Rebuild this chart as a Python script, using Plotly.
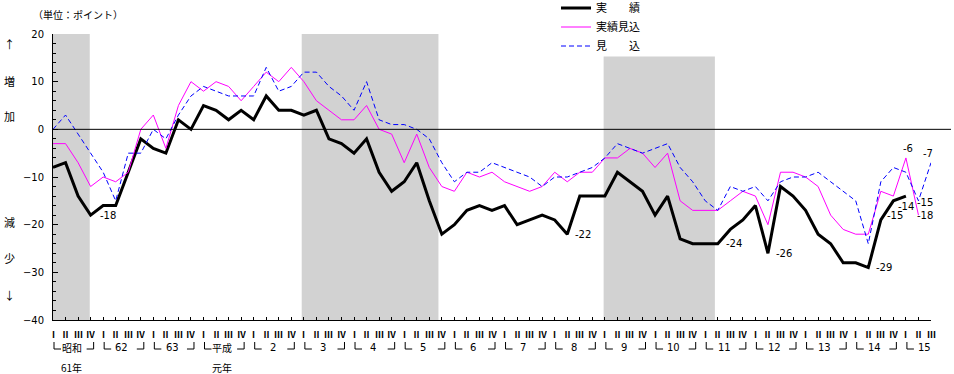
import plotly.graph_objects as go

# ---------------- data ----------------
quarter_labels = ["Ⅰ", "Ⅱ", "Ⅲ", "Ⅳ"]
year_labels = ["昭和", "62", "63", "平成", "2", "3", "4", "5", "6", "7", "8", "9",
               "10", "11", "12", "13", "14", "15"]
year_sublabels = ["61年", "", "", "元年", "", "", "", "", "", "", "", "", "", "", "", "", "", ""]
n_quarters = 71  # 昭和61年Ⅰ期 ... 平成15年Ⅲ期

series_names = ["実　　績", "実績見込", "見　　込"]

actual = [-8, -7, -14, -18, -16, -16, -9, -2, -4, -5, 2, 0, 5, 4, 2, 4, 2, 7, 4, 4,
          3, 4, -2, -3, -5, -2, -9, -13, -11, -7, -15, -22, -20, -17, -16, -17, -16, -20, -19, -18,
          -19, -22, -14, -14, -14, -9, -11, -13, -18, -14, -23, -24, -24, -24, -21, -19, -16, -26, -12, -14,
          -17, -22, -24, -28, -28, -29, -19, -15, -14]

actual_estimate = [-3, -3, -7, -12, -10, -11, -9, 0, 3, -4, 5, 10, 8, 10, 9, 6, 9, 12, 10, 13,
                   10, 6, 4, 2, 2, 5, 0, -1, -7, -1, -8, -12, -13, -9, -10, -9, -11, -12, -13, -12,
                   -9, -11, -9, -9, -6, -6, -4, -5, -8, -5, -15, -17, -17, -17, -15, -13, -14, -20, -9, -9,
                   -10, -12, -18, -21, -22, -22, -13, -14, -6, -18]

outlook = [0, 3, -1, -5, -9, -15, -5, -5, 0, -2, 3, 7, 9, 8, 7, 7, 7, 13, 8, 9,
           12, 12, 9, 7, 4, 10, 2, 1, 1, 0, -2, -7, -11, -9, -9, -7, -8, -9, -10, -12,
           -10, -10, -9, -8, -6, -3, -4, -5, -4, -3, -8, -11, -15, -17, -12, -13, -12, -15, -11, -10,
           -10, -9, -11, -13, -15, -24, -11, -8, -9, -15, -7]

# recession (shaded) periods, in quarter-index units
recession_start = [0.0, 19.83, 43.9]
recession_end = [2.93, 30.73, 52.77]
recession_top = [20, 20, 15.3]

# labelled points: (series index, quarter index, xshift, yshift)
labelled = [(0, 3, 17, 0), (0, 41, 16, 0), (0, 53, 16, 0), (0, 57, 16, 0), (0, 65, 16, 0),
            (0, 67, 2, -15), (0, 68, 0, -10), (1, 68, 2, 9), (1, 69, 7, 0),
            (2, 69, 7, -2), (2, 70, -3, 9)]

# ---------------- geometry helpers ----------------
W, H = 954, 374
L, R, T, B = 53, 931, 34, 320


def px_x(p):
    return (p - L) / (R - L)


def px_y(p):
    return (B - p) / (B - T)


CJK = "Noto Sans CJK JP"
NUM = "DejaVu Sans"

series = [actual, actual_estimate, outlook]
styles = [dict(color="#000000", width=3),
          dict(color="#ff00ff", width=1),
          dict(color="#0000ff", width=1, dash="5px,3px")]

fig = go.Figure()
for name, vals, st in zip(series_names, series, styles):
    fig.add_trace(go.Scatter(x=list(range(len(vals))), y=vals, mode="lines", name=name,
                             line=st, hoverinfo="skip"))

shapes = []
for s, e, t in zip(recession_start, recession_end, recession_top):
    shapes.append(dict(type="rect", xref="x", yref="y", x0=s, x1=e, y0=-40, y1=t,
                       fillcolor="#d2d2d2", line=dict(width=0), layer="below"))
# zero line extending past the plot
shapes.append(dict(type="line", xref="paper", yref="y", x0=0, x1=px_x(951), y0=0, y1=0,
                   line=dict(color="black", width=1)))

annotations = []
# quarter labels
for i in range(n_quarters):
    annotations.append(dict(x=i, xref="x", y=px_y(334), yref="paper", text=quarter_labels[i % 4],
                            showarrow=False, font=dict(family=CJK, size=9, color="black", weight="bold"),
                            height=9, borderpad=0, xanchor="center", yanchor="middle"))
# year labels and brackets
for k, (yl, ys) in enumerate(zip(year_labels, year_sublabels)):
    cx = 4 * k + 1.5
    annotations.append(dict(x=cx, xref="x", y=px_y(347), yref="paper", text=yl, showarrow=False,
                            font=dict(family=CJK if not yl.isdigit() else NUM, size=10, color="black"),
                            height=11, borderpad=0, xanchor="center", yanchor="middle"))
    if ys:
        annotations.append(dict(x=cx, xref="x", y=px_y(367), yref="paper", text=ys, showarrow=False,
                                font=dict(family=CJK, size=10, color="black"),
                                height=12, borderpad=0, xanchor="center", yanchor="middle"))
    a = 4 * k
    shapes.append(dict(type="line", xref="x", xsizemode="pixel", xanchor=a, x0=1, x1=1,
                       yref="paper", ysizemode="pixel", yanchor=0, y0=-22, y1=-29,
                       line=dict(color="black", width=1)))
    shapes.append(dict(type="line", xref="x", xsizemode="pixel", xanchor=a, x0=1, x1=8,
                       yref="paper", ysizemode="pixel", yanchor=0, y0=-29, y1=-29,
                       line=dict(color="black", width=1)))
    b = 4 * k + 3
    if b < n_quarters:
        shapes.append(dict(type="line", xref="x", xsizemode="pixel", xanchor=b, x0=3, x1=3,
                           yref="paper", ysizemode="pixel", yanchor=0, y0=-22, y1=-29,
                           line=dict(color="black", width=1)))
        shapes.append(dict(type="line", xref="x", xsizemode="pixel", xanchor=b, x0=-4, x1=3,
                           yref="paper", ysizemode="pixel", yanchor=0, y0=-29, y1=-29,
                           line=dict(color="black", width=1)))

# data labels
for si, qi, xs, ys in labelled:
    v = series[si][qi]
    annotations.append(dict(x=qi, y=v, xref="x", yref="y", text=str(v), showarrow=False,
                            xshift=xs, yshift=ys, font=dict(family=NUM, size=10, color="black"),
                            xanchor="center", yanchor="middle"))

# side labels and unit
for txt, py in [("↑", 44), ("増", 81), ("加", 116), ("減", 222), ("少", 258), ("↓", 295)]:
    annotations.append(dict(x=px_x(9), y=px_y(py), xref="paper", yref="paper", text=txt,
                            showarrow=False, font=dict(family=CJK, size=11, color="black"),
                            xanchor="center", yanchor="middle"))
annotations.append(dict(x=px_x(31), y=px_y(15), xref="paper", yref="paper", text="（単位：ポイント）",
                        showarrow=False, font=dict(family=CJK, size=10, color="black"),
                        xanchor="left", yanchor="middle"))

fig.update_layout(
    width=W, height=H,
    margin=dict(l=L, r=W - R, t=T, b=H - B, autoexpand=False),
    paper_bgcolor="white", plot_bgcolor="white",
    showlegend=True,
    legend=dict(x=px_x(556), y=px_y(-6.5), xanchor="left", yanchor="top",
                font=dict(family=CJK, size=11, color="black"), bgcolor="rgba(0,0,0,0)",
                tracegroupgap=0),
    shapes=shapes, annotations=annotations,
    xaxis=dict(range=[0, n_quarters - 1], showgrid=False, zeroline=False, showline=True,
               linecolor="black", linewidth=1, ticks="inside", ticklen=3, tickcolor="black",
               tickvals=list(range(n_quarters)), showticklabels=False, fixedrange=True,
               automargin=False),
    yaxis=dict(range=[-40, 20], showgrid=False, zeroline=False, showline=True,
               linecolor="black", linewidth=1, ticks="inside", ticklen=5, tickcolor="black",
               dtick=10, tick0=0, tickfont=dict(family=NUM, size=10, color="black"),
               ticklabelstandoff=6, automargin=False,
               minor=dict(dtick=2, ticks="inside", ticklen=3, tickcolor="black"), fixedrange=True),
)

fig.write_html("out.html", config={"displayModeBar": False},
               post_script="document.body.style.margin='0';")
